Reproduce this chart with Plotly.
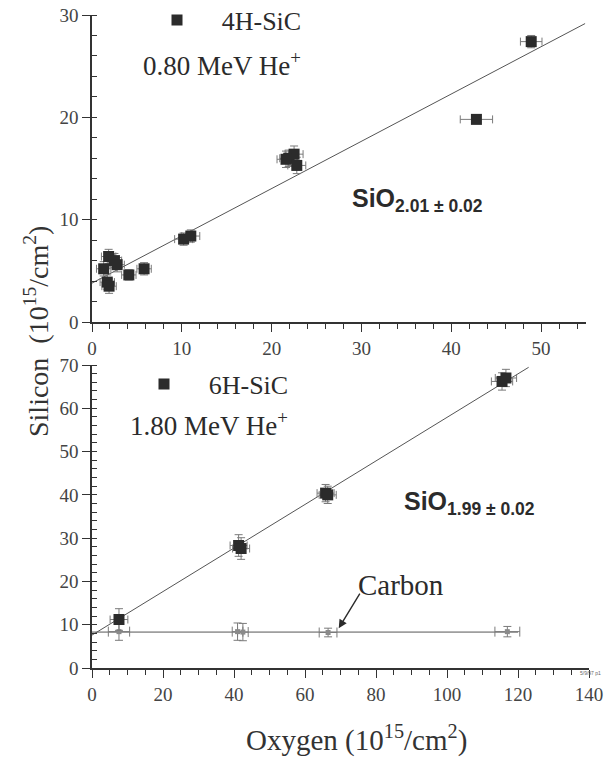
import numpy as np
import plotly.graph_objects as go

# ---------------- data ----------------
# Top panel: 4H-SiC, 0.80 MeV He+
top_oxygen = [48.9, 42.8, 21.9, 22.5, 22.8, 21.6, 10.2, 11.0, 1.85, 2.5, 2.8, 1.3, 1.7, 1.9, 4.1, 5.8]
top_silicon = [27.4, 19.8, 16.0, 16.4, 15.3, 15.9, 8.1, 8.4, 6.4, 6.0, 5.6, 5.2, 3.9, 3.5, 4.6, 5.2]
top_oxygen_err = [1.2, 1.8, 1.0, 1.0, 1.0, 1.0, 1.0, 1.0, 0.8, 0.8, 0.8, 0.8, 0.8, 0.8, 0.8, 0.8]
top_silicon_err = [0.6, 0.4, 0.8, 0.8, 0.8, 0.8, 0.6, 0.6, 0.7, 0.7, 0.7, 0.7, 0.7, 0.7, 0.5, 0.6]
top_fit_intercept = 3.8
top_fit_slope = 0.462
top_fit_xrange = [0.0, 54.9]

# Bottom panel: 6H-SiC, 1.80 MeV He+
bot_oxygen = [7.6, 41.3, 42.0, 65.8, 66.4, 115.5, 116.6]
bot_silicon = [11.2, 28.3, 27.6, 40.4, 40.0, 66.2, 67.0]
bot_oxygen_err = [2.5, 2.4, 2.4, 2.4, 2.4, 3.0, 3.0]
bot_silicon_err = [2.5, 2.5, 2.5, 2.0, 2.0, 2.0, 2.0]
bot_fit_intercept = 7.6
bot_fit_slope = 0.503
bot_fit_xrange = [0.0, 123.0]

carbon_oxygen = [7.6, 41.0, 42.5, 66.5, 117.0]
carbon_value = [8.4, 8.4, 8.3, 8.2, 8.4]
carbon_oxygen_err = [3.0, 1.5, 1.5, 2.5, 3.5]
carbon_value_err = [2.0, 2.0, 2.0, 1.0, 1.2]
carbon_fit_value = 8.3
carbon_fit_xrange = [0.0, 120.0]

top_xticks = [0, 10, 20, 30, 40, 50]
top_yticks = [0, 10, 20, 30]
bot_xticks = [0, 20, 40, 60, 80, 100, 120, 140]
bot_yticks = [0, 10, 20, 30, 40, 50, 60, 70]

# ---------------- styling ----------------
SERIF = "Liberation Serif"
SANS = "Liberation Sans"
INK = "#2b2b2b"
AX = "#333333"
ERR = "#7a7a7a"
FIT = "#555555"
GAP = "\u00a0\u00a0\u00a0\u2009"   # spacing between legend symbol and its label

W, H = 607, 760


def px(x):
    return x / W


def py(y):
    return 1 - y / H


fig = go.Figure()

tx = np.array(top_fit_xrange)
fig.add_trace(go.Scatter(x=tx, y=top_fit_intercept + top_fit_slope * tx, mode="lines",
                         line=dict(color=FIT, width=1), showlegend=False,
                         xaxis="x", yaxis="y", hoverinfo="skip"))
fig.add_trace(go.Scatter(x=top_oxygen, y=top_silicon, mode="markers", name=GAP + "4H-SiC",
                         marker=dict(symbol="square", size=11, color=INK),
                         error_x=dict(type="data", array=top_oxygen_err, color=ERR, thickness=1, width=4),
                         error_y=dict(type="data", array=top_silicon_err, color=ERR, thickness=1, width=4),
                         xaxis="x", yaxis="y", legend="legend"))

bx = np.array(bot_fit_xrange)
fig.add_trace(go.Scatter(x=bx, y=bot_fit_intercept + bot_fit_slope * bx, mode="lines",
                         line=dict(color=FIT, width=1), showlegend=False,
                         xaxis="x2", yaxis="y2", hoverinfo="skip"))
cx = np.array(carbon_fit_xrange)
fig.add_trace(go.Scatter(x=cx, y=np.full_like(cx, carbon_fit_value), mode="lines",
                         line=dict(color=FIT, width=1), showlegend=False,
                         xaxis="x2", yaxis="y2", hoverinfo="skip"))
fig.add_trace(go.Scatter(x=carbon_oxygen, y=carbon_value, mode="markers", showlegend=False,
                         marker=dict(symbol="square", size=5, color="#8a8a8a"),
                         error_x=dict(type="data", array=carbon_oxygen_err, color=ERR, thickness=1, width=5),
                         error_y=dict(type="data", array=carbon_value_err, color=ERR, thickness=1, width=4),
                         xaxis="x2", yaxis="y2"))
fig.add_trace(go.Scatter(x=bot_oxygen, y=bot_silicon, mode="markers", name=GAP + "6H-SiC",
                         marker=dict(symbol="square", size=11, color=INK),
                         error_x=dict(type="data", array=bot_oxygen_err, color=ERR, thickness=1, width=4),
                         error_y=dict(type="data", array=bot_silicon_err, color=ERR, thickness=1, width=4),
                         xaxis="x2", yaxis="y2", legend="legend2"))

axis_common = dict(showline=True, linecolor=AX, linewidth=1.6, showgrid=False, zeroline=False,
                   ticks="outside", tickcolor=AX, tickwidth=1.4, ticklen=8, automargin=False,
                   tickfont=dict(family=SERIF, size=19, color="#444"))

fig.update_layout(
    width=W, height=H,
    margin=dict(l=0, r=0, t=0, b=0, autoexpand=False),
    paper_bgcolor="white", plot_bgcolor="white",
    xaxis=dict(domain=[px(92), px(586)], range=[0, 55], anchor="y", tickvals=top_xticks,
               minor=dict(dtick=2, ticks="outside", ticklen=5, tickcolor=AX, tickwidth=1.2),
               **axis_common),
    yaxis=dict(domain=[py(322), py(15)], range=[0, 30], anchor="x", tickvals=top_yticks,
               minor=dict(dtick=2, ticks="inside", ticklen=5, tickcolor=AX, tickwidth=1.2),
               **axis_common),
    xaxis2=dict(domain=[px(92), px(589)], range=[0, 140], anchor="y2", tickvals=bot_xticks,
                minor=dict(dtick=5, ticks="outside", ticklen=5, tickcolor=AX, tickwidth=1.2),
                **axis_common),
    yaxis2=dict(domain=[py(668), py(365)], range=[0, 70], anchor="x2", tickvals=bot_yticks,
                minor=dict(dtick=2, ticks="inside", ticklen=5, tickcolor=AX, tickwidth=1.2),
                **axis_common),
    legend=dict(x=px(157), y=py(20), xanchor="left", yanchor="middle", bgcolor="rgba(0,0,0,0)",
                font=dict(family=SERIF, size=26, color=INK), itemwidth=30),
    legend2=dict(x=px(144), y=py(384), xanchor="left", yanchor="middle", bgcolor="rgba(0,0,0,0)",
                 font=dict(family=SERIF, size=26, color=INK), itemwidth=30),
)

ann = []
ann.append(dict(text="0.80 MeV He<sup>+</sup>", x=px(141), y=py(64), xref="paper", yref="paper",
                xanchor="left", yanchor="middle", showarrow=False,
                font=dict(family=SERIF, size=27, color=INK)))
ann.append(dict(text="1.80 MeV He<sup>+</sup>", x=px(128), y=py(424), xref="paper", yref="paper",
                xanchor="left", yanchor="middle", showarrow=False,
                font=dict(family=SERIF, size=27, color=INK)))
ann.append(dict(text="<b>SiO<sub>2.01 ± 0.02</sub></b>", x=px(350), y=py(200), xref="paper", yref="paper",
                xanchor="left", yanchor="middle", showarrow=False,
                font=dict(family=SANS, size=25, color=INK)))
ann.append(dict(text="<b>SiO<sub>1.99 ± 0.02</sub></b>", x=px(402), y=py(503), xref="paper", yref="paper",
                xanchor="left", yanchor="middle", showarrow=False,
                font=dict(family=SANS, size=25, color=INK)))
ann.append(dict(text="Carbon", x=px(356), y=py(585), xref="paper", yref="paper",
                xanchor="left", yanchor="middle", showarrow=False,
                font=dict(family=SERIF, size=29, color=INK)))
ann.append(dict(text="", x=69.5, y=9.2, xref="x2", yref="y2", showarrow=True,
                ax=22, ay=-36, arrowhead=2, arrowsize=1.2, arrowwidth=1.4, arrowcolor=INK))
ann.append(dict(text="Oxygen (10<sup>15</sup>/cm<sup>2</sup>)", x=px(356), y=py(738),
                xref="paper", yref="paper", xanchor="center", yanchor="middle", showarrow=False,
                font=dict(family=SERIF, size=29, color=AX)))
ann.append(dict(text="Silicon  (10<sup>15</sup>/cm<sup>2</sup>)", x=px(36), y=py(332),
                xref="paper", yref="paper", xanchor="center", yanchor="middle", showarrow=False,
                textangle=-90, font=dict(family=SERIF, size=28, color=AX)))
ann.append(dict(text="5/9/97 p1", x=px(590), y=py(673), xref="paper", yref="paper",
                xanchor="center", yanchor="middle", showarrow=False,
                font=dict(family=SANS, size=5, color="#666")))
fig.update_layout(annotations=ann)

fig.write_html("out.html", config={"displayModeBar": False},
               post_script="document.body.style.margin='0';document.body.style.overflow='hidden';")
